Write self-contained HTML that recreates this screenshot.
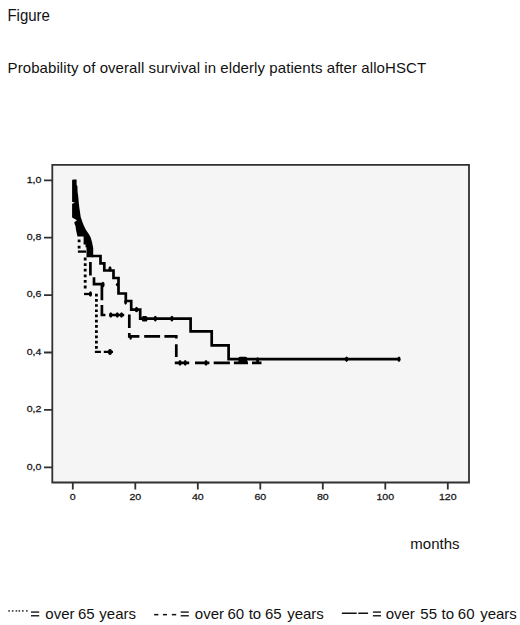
<!DOCTYPE html>
<html><head><meta charset="utf-8"><style>
html,body{margin:0;padding:0;background:#fff;width:520px;height:625px;overflow:hidden}
svg{display:block}
text{font-family:"Liberation Sans",sans-serif;fill:#111}
.big{font-size:15px}
.tk{font-size:9.3px;fill:#1a1a1a;stroke:#1a1a1a;stroke-width:0.25px}
</style></head><body>
<svg width="520" height="625" viewBox="0 0 520 625">
<rect width="520" height="625" fill="#fff"/>
<text class="big" transform="translate(7.4 21.1) scale(1 1.08)">Figure</text>
<text class="big" x="7.6" y="72.9" textLength="418.5" lengthAdjust="spacing">Probability of overall survival in elderly patients after alloHSCT</text>

<!-- plot area -->
<rect x="52" y="165" width="417" height="318" fill="#f5f5f5"/>
<path d="M52.3 164.8H469V482.5H52.3Z" fill="none" stroke="#303030" stroke-width="1.8"/>

<!-- y ticks -->
<g stroke="#303030" stroke-width="1.8">
<path d="M44 180.3H52.3M44 237.7H52.3M44 295.1H52.3M44 352.5H52.3M44 409.9H52.3M44 467.3H52.3"/>
<path d="M72.8 483V489.6M135.3 483V489.6M197.8 483V489.6M260.3 483V489.6M322.8 483V489.6M385.3 483V489.6M447.8 483V489.6"/>
</g>
<g class="tk" text-anchor="end">
<text transform="translate(41.4 182.6) scale(1.14 1)">1,0</text>
<text transform="translate(41.4 240.0) scale(1.14 1)">0,8</text>
<text transform="translate(41.4 297.4) scale(1.14 1)">0,6</text>
<text transform="translate(41.4 354.8) scale(1.14 1)">0,4</text>
<text transform="translate(41.4 412.2) scale(1.14 1)">0,2</text>
<text transform="translate(41.4 469.6) scale(1.14 1)">0,0</text>
</g>
<g class="tk" text-anchor="middle">
<text transform="translate(72.8 499.8) scale(1.14 1)">0</text>
<text transform="translate(135.3 499.8) scale(1.14 1)">20</text>
<text transform="translate(197.8 499.8) scale(1.14 1)">40</text>
<text transform="translate(260.3 499.8) scale(1.14 1)">60</text>
<text transform="translate(322.8 499.8) scale(1.14 1)">80</text>
<text transform="translate(385.3 499.8) scale(1.14 1)">100</text>
<text transform="translate(447.8 499.8) scale(1.14 1)">120</text>
</g>

<!-- curves -->
<g fill="none" stroke="#000" stroke-width="2.7">
<path fill="#000" stroke="none" d="M72.1 180.2Q72.3 179.4 73.5 179.4L76.6 179.4L76.6 185L77.4 186L77.6 192L78.2 196L78.8 203L79.4 208L80 212L80.7 217L82.4 222L84 226L86 230L88.8 234L90.5 237L92 242L93.2 248L93.2 257.2L86.5 257.2L86.5 244.5L83.6 244.5L83.6 236.4L77.5 236.4L76.1 230.4L75.5 226L74.6 224L74.3 222.2L77 220.3L72.1 217.5L72.1 203.7L75 202.8L72.1 201.8Z"/>
<g fill="#f5f5f5"><rect x="78.8" y="231.6" width="1.6" height="1.6"/><rect x="89.4" y="251.4" width="1.6" height="1.6"/><rect x="86.9" y="244.6" width="1.4" height="1.4"/></g>
<!-- solid -->
<path d="M91.8 256H100.5V263.3H104.3V270.5H113.5V278H118.5V293.5H125.8V301H131.2V309.6H140.2V318.6H190.6V331.4H211.7V345.3H228.6V359.2H400"/>
<!-- dashed -->
<path d="M90.4 262.1V275.4M94 277.2V284.2H101.9V300.3M101.9 304.9V315H105.4M109.2 315H124.2M129.3 314.6V328M129.3 332.9V336.3H139.4M144.2 336.3H160.1M164.4 336.3H176.3V338.5M176.3 344.2V357M174.8 362.9H189.2M195 362.9H209.4M213.7 362.9H229.9M233.9 362.9H248M252 362.9H261.5"/>
<!-- dotted -->
<path stroke-width="2.8" stroke-dasharray="2.8 3.4" d="M79.1 239.5V249"/>
<path stroke-width="2.3" d="M77.9 251.6H86"/>
<path stroke-width="2.8" stroke-dasharray="2.8 2.8" d="M85.2 257.6V291"/>
<path stroke-width="2.3" d="M84 294H91"/>
<path stroke-width="2.8" stroke-dasharray="2.7 2.53" d="M96.4 293.7V349"/>
<path stroke-width="2.2" d="M94.9 351.9H100.9M103.8 351.9H113"/>
</g>
<!-- censor marks -->
<g fill="#000">
<ellipse cx="110" cy="269" rx="1.6" ry="2.8"/>
<ellipse cx="117.3" cy="284.6" rx="1.5" ry="1.6"/>
<ellipse cx="125.6" cy="302.3" rx="1.4" ry="2.4"/>
<ellipse cx="136.5" cy="309.5" rx="1.6" ry="2.8"/>
<rect x="141.8" y="316" width="5.6" height="5.4" rx="1.5"/>
<ellipse cx="155.3" cy="318.6" rx="1.6" ry="2.8"/>
<ellipse cx="171.9" cy="318.6" rx="1.6" ry="2.8"/>
<rect x="238.4" y="356.8" width="8.8" height="6.6" rx="1.5"/>
<ellipse cx="346.6" cy="359.2" rx="1.6" ry="2.8"/>
<ellipse cx="399" cy="359.2" rx="1.6" ry="2.8"/>
<ellipse cx="103" cy="284.5" rx="1.6" ry="2.8"/>
<ellipse cx="110.8" cy="315" rx="1.6" ry="2.8"/>
<ellipse cx="130.6" cy="337.6" rx="1.3" ry="2.2"/>
<ellipse cx="117.3" cy="315" rx="1.6" ry="2.8"/>
<ellipse cx="121.5" cy="315" rx="1.6" ry="2.8"/>
<ellipse cx="180" cy="362.9" rx="1.6" ry="2.8"/>
<ellipse cx="185.2" cy="362.9" rx="1.6" ry="2.8"/>
<ellipse cx="206" cy="362.9" rx="1.6" ry="2.8"/>
<ellipse cx="257.6" cy="360.6" rx="1.4" ry="3.4"/>
<ellipse cx="90.5" cy="294" rx="1.6" ry="2.8"/>
<ellipse cx="110" cy="352" rx="2" ry="3"/>
</g>

<text class="big" x="410.3" y="548.8">months</text>

<!-- legend -->
<g fill="#3a3a3a">
<rect x="8.3" y="610.1" width="1.6" height="1.6"/><rect x="11.9" y="610.1" width="1.6" height="1.6"/><rect x="15.6" y="610.1" width="1.6" height="1.6"/><rect x="18.5" y="610.1" width="1.6" height="1.6"/><rect x="22" y="610.1" width="1.6" height="1.6"/><rect x="26" y="610.1" width="1.6" height="1.6"/>
</g>
<g fill="#111">
<rect x="154.1" y="613.9" width="4.3" height="1.5"/><rect x="162.9" y="613.9" width="4.1" height="1.5"/><rect x="171.8" y="613.9" width="4.4" height="1.5"/>
<rect x="341.8" y="612.5" width="14.9" height="1.5"/><rect x="358.3" y="612.5" width="9.8" height="1.5"/>
<rect x="31" y="611.4" width="8.2" height="1.35"/><rect x="31" y="615.1" width="8.2" height="1.35"/><rect x="180.7" y="611.4" width="8.1" height="1.35"/><rect x="180.7" y="615.1" width="8.1" height="1.35"/><rect x="372.9" y="611.4" width="8.1" height="1.35"/><rect x="372.9" y="615.1" width="8.1" height="1.35"/>
</g>
<g class="big">
<text x="45.3" y="618.8">over</text><text x="77.9" y="618.8">65</text><text x="99.3" y="618.8">years</text>
<text x="194.8" y="618.8">over</text><text x="227.5" y="618.8">60</text><text x="248.7" y="618.8">to</text><text x="265" y="618.8">65</text><text x="287.2" y="618.8">years</text>
<text x="385.7" y="618.8">over</text><text x="420.3" y="618.8">55</text><text x="441.5" y="618.8">to</text><text x="457.8" y="618.8">60</text><text x="480.2" y="618.8">years</text>
</g>
</svg>
</body></html>
